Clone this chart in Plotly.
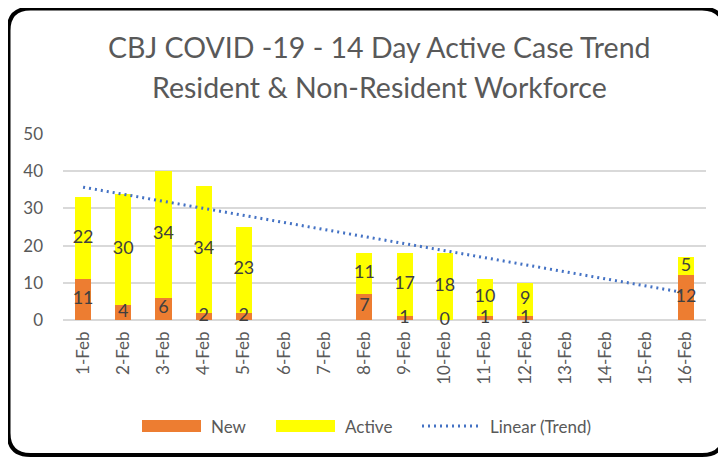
import numpy as np
import plotly.graph_objects as go

# ---------------- data ----------------
dates = ["1-Feb", "2-Feb", "3-Feb", "4-Feb", "5-Feb", "6-Feb", "7-Feb", "8-Feb",
         "9-Feb", "10-Feb", "11-Feb", "12-Feb", "13-Feb", "14-Feb", "15-Feb", "16-Feb"]
new_cases = [11, 4, 6, 2, 2, None, None, 7, 1, 0, 1, 1, None, None, None, 12]
active_cases = [22, 30, 34, 34, 23, None, None, 11, 17, 18, 10, 9, None, None, None, 5]
y_ticks = [0, 10, 20, 30, 40, 50]

title_line1 = "CBJ COVID -19 - 14 Day Active Case Trend"
title_line2 = "Resident & Non-Resident Workforce"

# ---------------- styling ----------------
OFF = 8                      # page body margin in the browser
SW, SH = 726, 457            # screen size
W, H = SW - OFF, SH - OFF    # figure size
# plot area in screen pixels
PX0, PX1, PY0, PY1 = 63, 706, 134, 320
L, R, T, B = PX0 - OFF, SW - PX1, PY0 - OFF, SH - PY1
PW, PH = W - L - R, H - T - B
FONT = "Lato"
GREY = "#595959"
LABEL = "#404040"
C_NEW = "#ED7D31"
C_ACT = "#FFFF00"
C_TREND = "#4472C4"


def px(x):
    """screen x pixel -> paper coordinate"""
    return (x - PX0) / PW


def py(y):
    """screen y pixel -> paper coordinate"""
    return (PY1 - y) / PH


# ---------------- derived ----------------
idx = [i for i, v in enumerate(new_cases) if v is not None]
totals = [new_cases[i] + active_cases[i] for i in idx]
coef = np.polyfit(np.array(idx) + 1, totals, 1)
xs = np.arange(1, len(dates) + 1)
trend = np.polyval(coef, xs)

new_lab_y = [v / 2 if v is not None else None for v in new_cases]
act_lab_y = [(n + a / 2) if a is not None else None for n, a in zip(new_cases, active_cases)]
new_txt = [str(v) if v is not None else "" for v in new_cases]
act_txt = [str(v) if v is not None else "" for v in active_cases]

fig = go.Figure()
fig.add_trace(go.Bar(x=dates, y=new_cases, name="New", marker_color=C_NEW, marker_line_width=0))
fig.add_trace(go.Bar(x=dates, y=active_cases, name="Active", marker_color=C_ACT, marker_line_width=0))
fig.add_trace(go.Scatter(x=dates, y=trend, mode="lines", name="Linear (Trend)",
                         line=dict(color=C_TREND, width=3, dash="2px,4px")))
fig.add_trace(go.Scatter(x=dates, y=new_lab_y, mode="text", text=new_txt,
                         textposition="middle center", cliponaxis=False,
                         textfont=dict(family=FONT, size=18, color=LABEL), showlegend=False))
fig.add_trace(go.Scatter(x=dates, y=act_lab_y, mode="text", text=act_txt,
                         textposition="middle center", cliponaxis=False,
                         textfont=dict(family=FONT, size=18, color=LABEL), showlegend=False))

shapes = []
# outer rounded frame (screen px)
x0, x1, y0, y1, r = 8.5, 724, 8.5, 455, 22
path = (f"M {px(x0 + r)} {py(y0)} L {px(x1 - r)} {py(y0)} "
        f"Q {px(x1)} {py(y0)} {px(x1)} {py(y0 + r)} "
        f"L {px(x1)} {py(y1 - r)} Q {px(x1)} {py(y1)} {px(x1 - r)} {py(y1)} "
        f"L {px(x0 + r)} {py(y1)} Q {px(x0)} {py(y1)} {px(x0)} {py(y1 - r)} "
        f"L {px(x0)} {py(y0 + r)} Q {px(x0)} {py(y0)} {px(x0 + r)} {py(y0)} Z")
shapes.append(dict(type="path", xref="paper", yref="paper", path=path,
                   line=dict(color="black", width=4), layer="above"))

# custom legend
leg_y = 426
shapes.append(dict(type="rect", xref="paper", yref="paper", x0=px(142), x1=px(201),
                   y0=py(432), y1=py(420), fillcolor=C_NEW, line_width=0))
shapes.append(dict(type="rect", xref="paper", yref="paper", x0=px(276), x1=px(335),
                   y0=py(432), y1=py(420), fillcolor=C_ACT, line_width=0))
shapes.append(dict(type="line", xref="paper", yref="paper", x0=px(422), x1=px(478),
                   y0=py(leg_y), y1=py(leg_y), line=dict(color=C_TREND, width=3, dash="2px,4px")))

annotations = [
    dict(text=title_line1, x=px(379), y=py(47), xref="paper", yref="paper",
         showarrow=False, xanchor="center", yanchor="middle",
         font=dict(family=FONT, size=28.5, color=GREY)),
    dict(text=title_line2, x=px(379), y=py(87), xref="paper", yref="paper",
         showarrow=False, xanchor="center", yanchor="middle",
         font=dict(family=FONT, size=28.5, color=GREY)),
]
for name, xpos in [("New", 209), ("Active", 343), ("Linear (Trend)", 488)]:
    annotations.append(dict(text=name, x=px(xpos), y=py(leg_y), xref="paper", yref="paper",
                            showarrow=False, xanchor="left", yanchor="middle",
                            font=dict(family=FONT, size=17, color=GREY)))

fig.update_layout(
    width=W, height=H,
    margin=dict(l=L, r=R, t=T, b=B, autoexpand=False),
    paper_bgcolor="white", plot_bgcolor="white",
    barmode="stack", bargap=0.6,
    showlegend=False,
    shapes=shapes, annotations=annotations,
    font=dict(family=FONT, color=GREY),
)
fig.update_xaxes(type="category", range=[-0.5, len(dates) - 0.5], tickangle=-90,
                 showgrid=False, showline=False,
                 ticks="", tickfont=dict(family=FONT, size=17, color=GREY),
                 ticklabelstandoff=7)
fig.update_yaxes(range=[0, 50], tickvals=y_ticks, showgrid=True, gridcolor="#D9D9D9",
                 gridwidth=1.5, zeroline=True, zerolinecolor="#D9D9D9", zerolinewidth=1.5,
                 showline=False, ticks="", tickfont=dict(family=FONT, size=17, color=GREY),
                 ticklabelstandoff=19)

fig.write_html("out.html")
